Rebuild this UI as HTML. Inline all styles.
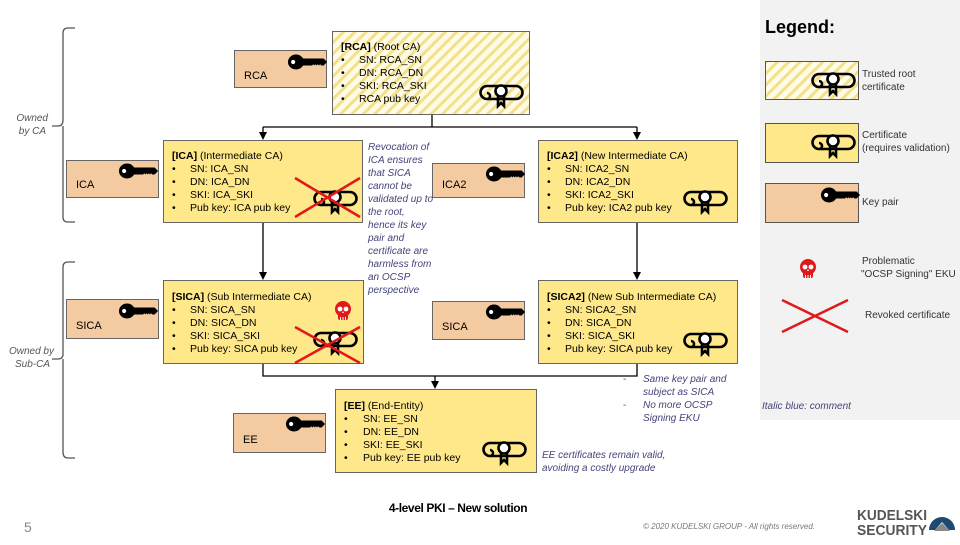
<!DOCTYPE html>
<html><head><meta charset="utf-8"><style>
body{margin:0;width:960px;height:540px;overflow:hidden;background:#fff;font-family:"Liberation Sans",Arial,sans-serif}
svg text{font-family:"Liberation Sans",Arial,sans-serif}
</style></head><body>
<svg width="960" height="540" viewBox="0 0 960 540" xmlns="http://www.w3.org/2000/svg">
<defs>
<pattern id="hatch" width="8" height="8" patternUnits="userSpaceOnUse" patternTransform="rotate(45)">
<rect width="8" height="8" fill="#fffbe6"/><rect width="3" height="8" fill="#f3e08a"/>
</pattern>
<g id="key0"><ellipse cx="0" cy="0" rx="7" ry="6.5" fill="#000"/><circle cx="-2.5" cy="0" r="1.8" fill="#fff"/><path d="M4 -3 H24 L27 0 L24 3 H22 L21 2 L20 3 L19 2 L18 3 L17 2 L16 3 L15 2 L14 3 H4 Z" fill="#000"/></g>
<g id="key"><use href="#key0" transform="scale(1.15)"/></g>
<g id="cert" fill="none" stroke="#000" stroke-width="2.6"><path d="M3 4 H32 M3 17 H32 M32 4 a6.5 6.5 0 0 1 0 13"/><path d="M3 4 a6 6 0 0 0 0 13 a3 3 0 0 0 0 -6"/><circle cx="17" cy="9" r="5.5" fill="#fff"/><path d="M14 13 V24 L17 21 L20 24 V13"/></g>
<g id="skull" fill="#e0191b"><circle cx="0" cy="0" r="8"/><rect x="-5" y="4" width="10" height="7" rx="2"/><circle cx="-3" cy="0" r="2.4" fill="#fff"/><circle cx="3" cy="0" r="2.4" fill="#fff"/><path d="M-1 4 L0 2 L1 4Z" fill="#fff"/><rect x="-3" y="8" width="1" height="3" fill="#fff"/><rect x="-0.5" y="8" width="1" height="3" fill="#fff"/><rect x="2" y="8" width="1" height="3" fill="#fff"/></g>
</defs>

<rect x="760" y="0" width="200" height="420" fill="#f2f2f2"/>
<text x="765" y="33" font-size="18" font-weight="bold">Legend:</text>
<rect x="765.5" y="61.5" width="93" height="38" fill="url(#hatch)" stroke="#555"/>
<use href="#cert" x="816" y="70"/>
<text x="862" y="77" font-size="10" fill="#333">Trusted root</text><text x="862" y="90" font-size="10" fill="#333">certificate</text>
<rect x="765.5" y="123.5" width="93" height="39" fill="#ffe88a" stroke="#555"/>
<use href="#cert" x="816" y="132"/>
<text x="862" y="138" font-size="10" fill="#333">Certificate</text><text x="862" y="151" font-size="10" fill="#333">(requires validation)</text>
<rect x="765.5" y="183.5" width="93" height="39" fill="#f4caa0" stroke="#555"/>
<use href="#key" x="829" y="195"/>
<text x="862" y="205" font-size="10" fill="#333">Key pair</text>
<use href="#skull" x="808" y="267"/>
<text x="862" y="264" font-size="10" fill="#333">Problematic</text><text x="861" y="277" font-size="10" fill="#333">"OCSP Signing" EKU</text>
<path d="M782 300 L848 332 M782 332 L848 300" stroke="#e0191b" stroke-width="2.5"/>
<text x="865" y="318" font-size="10" fill="#333">Revoked certificate</text>
<text x="762" y="409" font-size="10" font-style="italic" fill="#44447a">Italic blue: comment</text>

<path d="M75 28 H68 Q63 28 63 33 V120 Q63 126 58 126 H52 M63 126 Q63 130 63 136 V217 Q63 222 68 222 H75" fill="none" stroke="#555" stroke-width="1.3"/>
<text x="48" y="121" font-size="10" font-style="italic" fill="#555" text-anchor="end">Owned</text>
<text x="46" y="134" font-size="10" font-style="italic" fill="#555" text-anchor="end">by CA</text>
<path d="M75 262 H68 Q63 262 63 267 V354 Q63 359 58 359 H52 M63 359 V452 Q63 458 68 458 H75" fill="none" stroke="#555" stroke-width="1.3"/>
<text x="54" y="354" font-size="10" font-style="italic" fill="#555" text-anchor="end">Owned by</text>
<text x="50" y="367" font-size="10" font-style="italic" fill="#555" text-anchor="end">Sub-CA</text>

<g stroke="#000" stroke-width="1.3" fill="none">
<path d="M432 114 V127 M263 127 H637 M263 127 V133 M637 127 V133"/>
<path d="M263 222 V273 M637 222 V273"/>
<path d="M263 363 V376 H637 V363 M435 376 V382"/>
</g>
<g fill="#000">
<path d="M259 132 H267 L263 140Z"/><path d="M633 132 H641 L637 140Z"/>
<path d="M259 272 H267 L263 280Z"/><path d="M633 272 H641 L637 280Z"/>
<path d="M431 381 H439 L435 389Z"/>
</g>

<g fill="#f4caa0" stroke="#666" stroke-width="1">
<rect x="234.5" y="50.5" width="92" height="37"/>
<rect x="66.5" y="160.5" width="92" height="37"/>
<rect x="432.5" y="163.5" width="92" height="34"/>
<rect x="66.5" y="299.5" width="92" height="39"/>
<rect x="432.5" y="301.5" width="92" height="38"/>
<rect x="233.5" y="413.5" width="92" height="39"/>
</g>
<g font-size="11" fill="#000">
<text x="244" y="79">RCA</text><text x="76" y="188">ICA</text><text x="442" y="188">ICA2</text>
<text x="76" y="329">SICA</text><text x="442" y="330">SICA</text><text x="243" y="443">EE</text>
</g>
<use href="#key" x="296" y="62"/><use href="#key" x="127" y="171"/><use href="#key" x="494" y="174"/>
<use href="#key" x="127" y="311"/><use href="#key" x="494" y="312"/><use href="#key" x="294" y="424"/>

<rect x="332.5" y="31.5" width="197" height="83" fill="url(#hatch)" stroke="#666"/>
<g fill="#ffe88a" stroke="#666">
<rect x="163.5" y="140.5" width="199" height="82"/>
<rect x="538.5" y="140.5" width="199" height="82"/>
<rect x="163.5" y="280.5" width="200" height="83"/>
<rect x="538.5" y="280.5" width="199" height="83"/>
<rect x="335.5" y="389.5" width="201" height="83"/>
</g>
<g font-size="10.5" fill="#000">
<text x="341" y="50"><tspan font-weight="bold">[RCA]</tspan> (Root CA)</text>
<text x="341" y="63">•<tspan x="359">SN: RCA_SN</tspan></text>
<text x="341" y="76">•<tspan x="359">DN: RCA_DN</tspan></text>
<text x="341" y="89">•<tspan x="359">SKI: RCA_SKI</tspan></text>
<text x="341" y="102">•<tspan x="359">RCA pub key</tspan></text>

<text x="172" y="159"><tspan font-weight="bold">[ICA]</tspan> (Intermediate CA)</text>
<text x="172" y="172">•<tspan x="190">SN: ICA_SN</tspan></text>
<text x="172" y="185">•<tspan x="190">DN: ICA_DN</tspan></text>
<text x="172" y="198">•<tspan x="190">SKI: ICA_SKI</tspan></text>
<text x="172" y="211">•<tspan x="190">Pub key: ICA pub key</tspan></text>

<text x="547" y="159"><tspan font-weight="bold">[ICA2]</tspan> (New Intermediate CA)</text>
<text x="547" y="172">•<tspan x="565">SN: ICA2_SN</tspan></text>
<text x="547" y="185">•<tspan x="565">DN: ICA2_DN</tspan></text>
<text x="547" y="198">•<tspan x="565">SKI: ICA2_SKI</tspan></text>
<text x="547" y="211">•<tspan x="565">Pub key: ICA2 pub key</tspan></text>

<text x="172" y="300"><tspan font-weight="bold">[SICA]</tspan> (Sub Intermediate CA)</text>
<text x="172" y="313">•<tspan x="190">SN: SICA_SN</tspan></text>
<text x="172" y="326">•<tspan x="190">DN: SICA_DN</tspan></text>
<text x="172" y="339">•<tspan x="190">SKI: SICA_SKI</tspan></text>
<text x="172" y="352">•<tspan x="190">Pub key: SICA pub key</tspan></text>

<text x="547" y="300"><tspan font-weight="bold">[SICA2]</tspan> (New Sub Intermediate CA)</text>
<text x="547" y="313">•<tspan x="565">SN: SICA2_SN</tspan></text>
<text x="547" y="326">•<tspan x="565">DN: SICA_DN</tspan></text>
<text x="547" y="339">•<tspan x="565">SKI: SICA_SKI</tspan></text>
<text x="547" y="352">•<tspan x="565">Pub key: SICA pub key</tspan></text>

<text x="344" y="409"><tspan font-weight="bold">[EE]</tspan> (End-Entity)</text>
<text x="344" y="422">•<tspan x="363">SN: EE_SN</tspan></text>
<text x="344" y="435">•<tspan x="363">DN: EE_DN</tspan></text>
<text x="344" y="448">•<tspan x="363">SKI: EE_SKI</tspan></text>
<text x="344" y="461">•<tspan x="363">Pub key: EE pub key</tspan></text>
</g>
<use href="#cert" x="484" y="82"/><use href="#cert" x="318" y="188"/><use href="#cert" x="688" y="188"/>
<use href="#cert" x="318" y="329"/><use href="#cert" x="688" y="330"/><use href="#cert" x="487" y="439"/>
<use href="#skull" x="343" y="309"/>
<path d="M295 178 L360 217 M295 217 L360 178" stroke="#e0191b" stroke-width="2.5"/>
<path d="M295 327 L360 363 M295 363 L360 327" stroke="#e0191b" stroke-width="2.5"/>

<g font-size="10" font-style="italic" fill="#44447a">
<text x="368" y="150">Revocation of</text><text x="368" y="163">ICA ensures</text><text x="368" y="176">that SICA</text>
<text x="368" y="189">cannot be</text><text x="368" y="202">validated up to</text><text x="368" y="215">the root,</text>
<text x="368" y="228">hence its key</text><text x="368" y="241">pair and</text><text x="368" y="254">certificate are</text>
<text x="368" y="267">harmless from</text><text x="368" y="280">an OCSP</text><text x="368" y="293">perspective</text>
<text x="623" y="382" font-style="normal" fill="#555">-</text><text x="643" y="382">Same key pair and</text>
<text x="643" y="395">subject as SICA</text>
<text x="623" y="408" font-style="normal" fill="#555">-</text><text x="643" y="408">No more OCSP</text>
<text x="643" y="421">Signing EKU</text>
<text x="542" y="458">EE certificates remain valid,</text>
<text x="542" y="471">avoiding a costly upgrade</text>
</g>

<text x="458" y="512" font-size="12" font-weight="bold" text-anchor="middle" letter-spacing="-0.4">4-level PKI – New solution</text>
<text x="24" y="532" font-size="14" fill="#888">5</text>
<text x="643" y="529" font-size="8" font-style="italic" fill="#777">© 2020 KUDELSKI GROUP  - All rights reserved.</text>
<text x="857" y="520" font-size="15" font-weight="bold" fill="#555" textLength="70" lengthAdjust="spacingAndGlyphs">KUDELSKI</text>
<text x="857" y="535" font-size="15" font-weight="bold" fill="#555" textLength="70" lengthAdjust="spacingAndGlyphs">SECURITY</text>
<path d="M929 530 A13 13 0 0 1 955 530 L949 530 L942 522 L935 530 Z" fill="#1c4a72"/>
<path d="M934 531 L942 523 L950 531Z" fill="#888"/>
</svg>
</body></html>
